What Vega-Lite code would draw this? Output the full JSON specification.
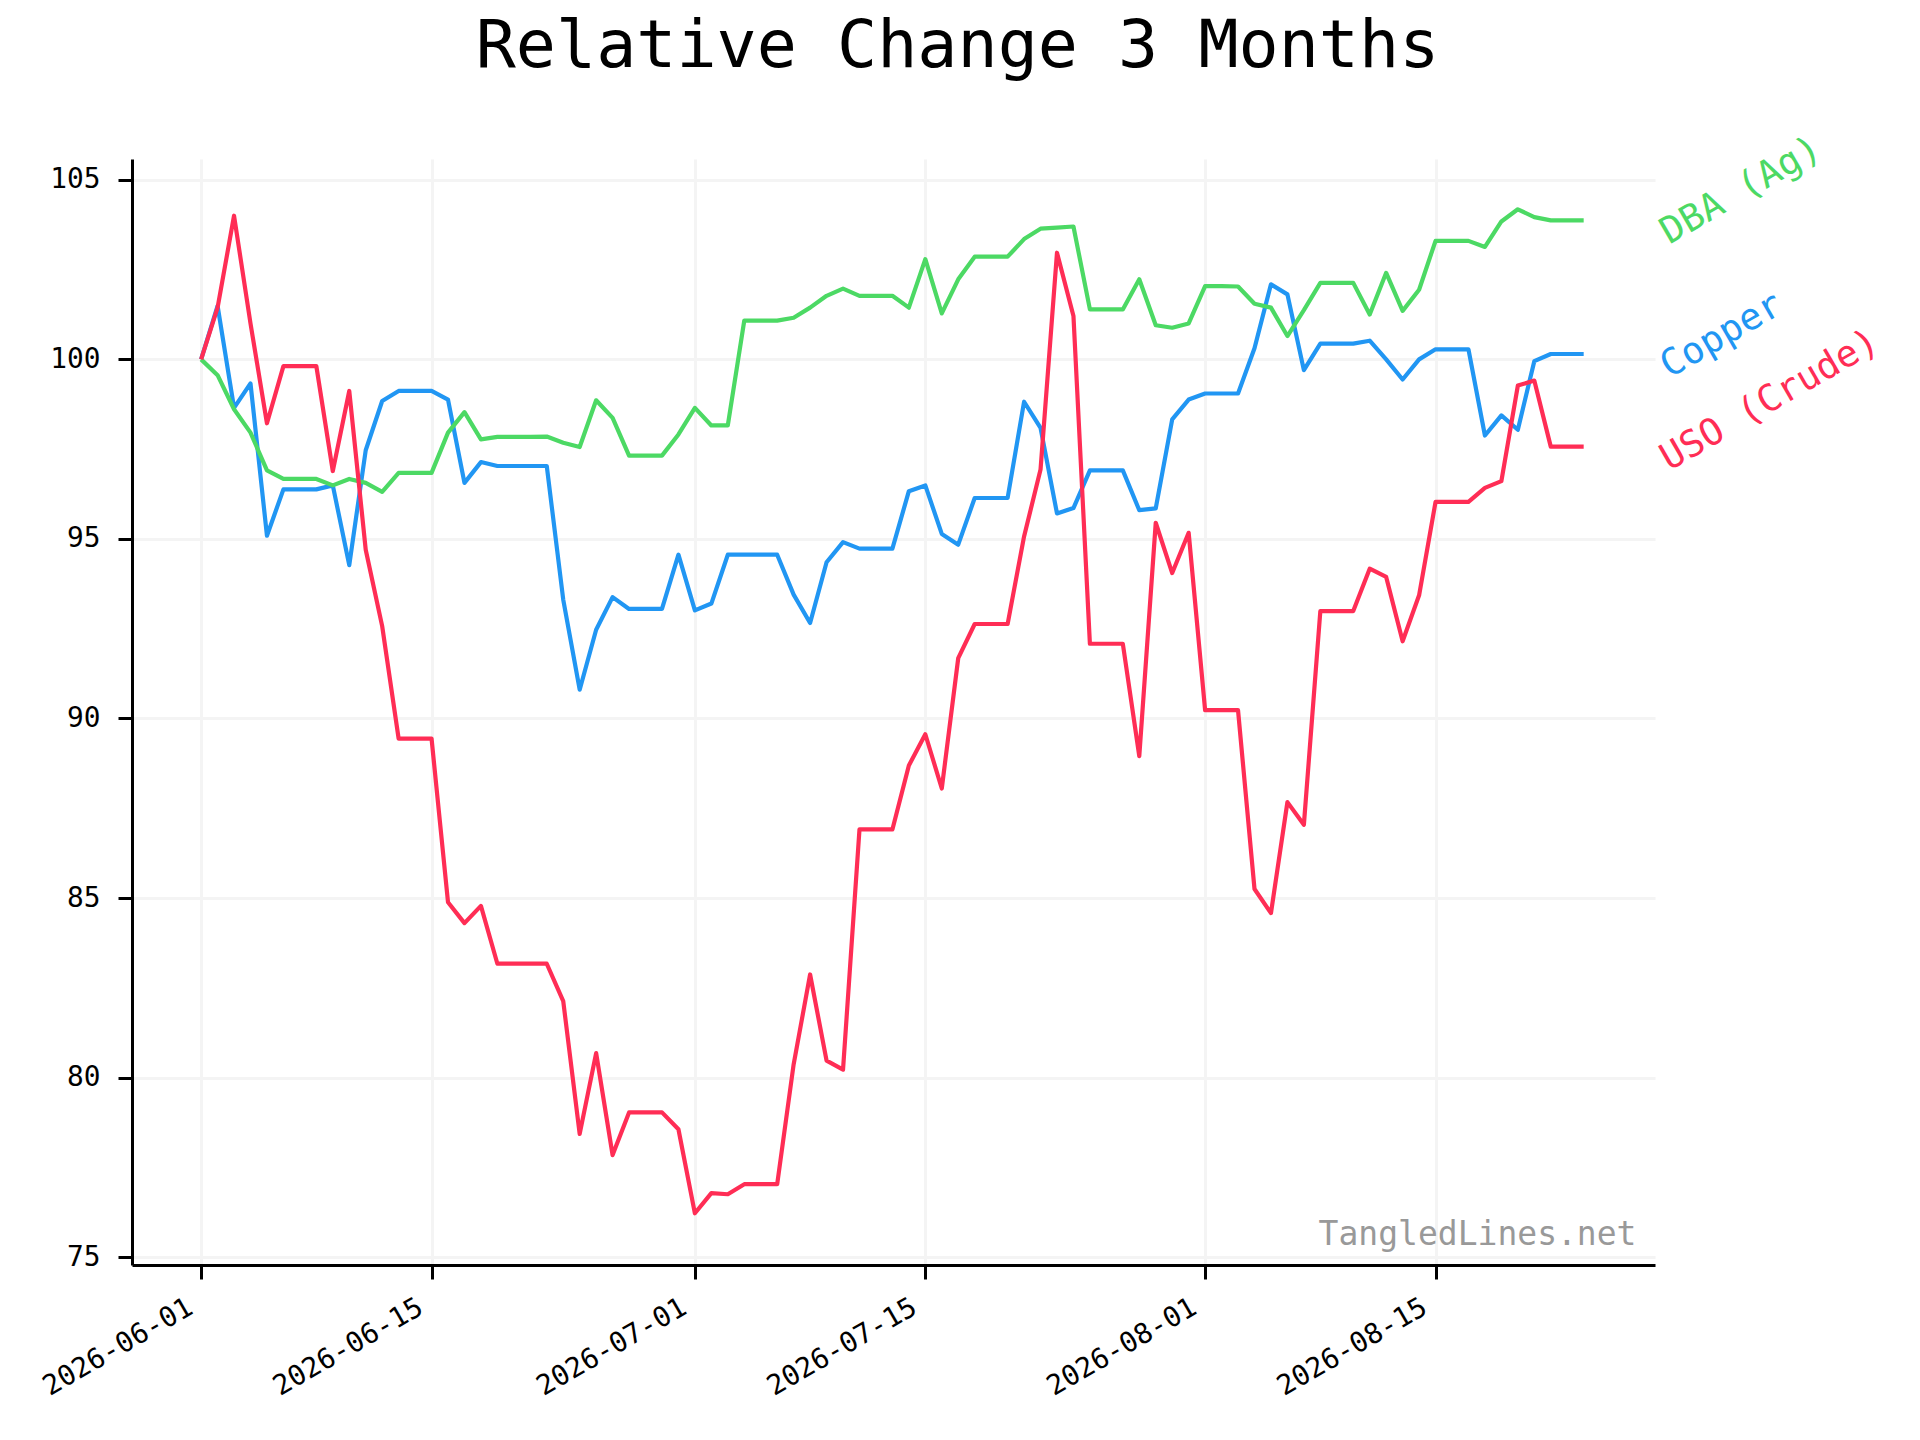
{
  "$schema": "https://vega.github.io/schema/vega-lite/v6.json",
  "width": 1523,
  "height": 1106,
  "autosize": "none",
  "padding": {"left": 132, "top": 159, "right": 265, "bottom": 175},
  "background": "white",
  "title": {
    "text": "Relative Change 3 Months",
    "font": "DejaVu Sans Mono",
    "fontSize": 66.7,
    "fontWeight": "normal",
    "color": "black",
    "anchor": "middle",
    "frame": "group",
    "baseline": "alphabetic",
    "dx": 64,
    "dy": 55,
    "offset": 51
  },
  "layer": [
    {
      "data": {
        "values": [
          {"date": "2026-06-01T00:00", "DBA (Ag)": 100, "Copper": 100, "USO (Crude)": 100},
          {"date": "2026-06-02T00:00", "DBA (Ag)": 99.56, "Copper": 101.49, "USO (Crude)": 101.44},
          {"date": "2026-06-03T00:00", "DBA (Ag)": 98.61, "Copper": 98.65, "USO (Crude)": 104.0},
          {"date": "2026-06-04T00:00", "DBA (Ag)": 97.96, "Copper": 99.33, "USO (Crude)": 101.0},
          {"date": "2026-06-05T00:00", "DBA (Ag)": 96.91, "Copper": 95.09, "USO (Crude)": 98.22},
          {"date": "2026-06-06T00:00", "DBA (Ag)": 96.67, "Copper": 96.38, "USO (Crude)": 99.81},
          {"date": "2026-06-07T00:00", "DBA (Ag)": 96.67, "Copper": 96.38, "USO (Crude)": 99.81},
          {"date": "2026-06-08T00:00", "DBA (Ag)": 96.67, "Copper": 96.38, "USO (Crude)": 99.81},
          {"date": "2026-06-09T00:00", "DBA (Ag)": 96.49, "Copper": 96.49, "USO (Crude)": 96.89},
          {"date": "2026-06-10T00:00", "DBA (Ag)": 96.67, "Copper": 94.27, "USO (Crude)": 99.12},
          {"date": "2026-06-11T00:00", "DBA (Ag)": 96.56, "Copper": 97.47, "USO (Crude)": 94.70},
          {"date": "2026-06-12T00:00", "DBA (Ag)": 96.31, "Copper": 98.84, "USO (Crude)": 92.57},
          {"date": "2026-06-13T00:00", "DBA (Ag)": 96.84, "Copper": 99.12, "USO (Crude)": 89.44},
          {"date": "2026-06-14T00:00", "DBA (Ag)": 96.84, "Copper": 99.12, "USO (Crude)": 89.44},
          {"date": "2026-06-15T00:00", "DBA (Ag)": 96.84, "Copper": 99.12, "USO (Crude)": 89.44},
          {"date": "2026-06-16T00:00", "DBA (Ag)": 97.96, "Copper": 98.88, "USO (Crude)": 84.88},
          {"date": "2026-06-17T00:00", "DBA (Ag)": 98.53, "Copper": 96.56, "USO (Crude)": 84.30},
          {"date": "2026-06-18T00:00", "DBA (Ag)": 97.77, "Copper": 97.14, "USO (Crude)": 84.78},
          {"date": "2026-06-19T00:00", "DBA (Ag)": 97.84, "Copper": 97.03, "USO (Crude)": 83.17},
          {"date": "2026-06-20T00:00", "DBA (Ag)": 97.84, "Copper": 97.03, "USO (Crude)": 83.17},
          {"date": "2026-06-21T00:00", "DBA (Ag)": 97.84, "Copper": 97.03, "USO (Crude)": 83.17},
          {"date": "2026-06-22T00:00", "DBA (Ag)": 97.85, "Copper": 97.03, "USO (Crude)": 83.17},
          {"date": "2026-06-23T00:00", "DBA (Ag)": 97.68, "Copper": 93.31, "USO (Crude)": 82.13},
          {"date": "2026-06-24T00:00", "DBA (Ag)": 97.56, "Copper": 90.80, "USO (Crude)": 78.43},
          {"date": "2026-06-25T00:00", "DBA (Ag)": 98.86, "Copper": 92.47, "USO (Crude)": 80.68},
          {"date": "2026-06-26T00:00", "DBA (Ag)": 98.37, "Copper": 93.38, "USO (Crude)": 77.84},
          {"date": "2026-06-27T00:00", "DBA (Ag)": 97.32, "Copper": 93.05, "USO (Crude)": 79.03},
          {"date": "2026-06-28T00:00", "DBA (Ag)": 97.32, "Copper": 93.05, "USO (Crude)": 79.03},
          {"date": "2026-06-29T00:00", "DBA (Ag)": 97.32, "Copper": 93.05, "USO (Crude)": 79.03},
          {"date": "2026-06-30T00:00", "DBA (Ag)": 97.91, "Copper": 94.56, "USO (Crude)": 78.56},
          {"date": "2026-07-01T00:00", "DBA (Ag)": 98.65, "Copper": 93.01, "USO (Crude)": 76.22},
          {"date": "2026-07-02T00:00", "DBA (Ag)": 98.16, "Copper": 93.20, "USO (Crude)": 76.78},
          {"date": "2026-07-03T00:00", "DBA (Ag)": 98.16, "Copper": 94.56, "USO (Crude)": 76.75},
          {"date": "2026-07-04T00:00", "DBA (Ag)": 101.08, "Copper": 94.56, "USO (Crude)": 77.03},
          {"date": "2026-07-05T00:00", "DBA (Ag)": 101.08, "Copper": 94.56, "USO (Crude)": 77.03},
          {"date": "2026-07-06T00:00", "DBA (Ag)": 101.08, "Copper": 94.56, "USO (Crude)": 77.03},
          {"date": "2026-07-07T00:00", "DBA (Ag)": 101.16, "Copper": 93.45, "USO (Crude)": 80.37},
          {"date": "2026-07-08T00:00", "DBA (Ag)": 101.44, "Copper": 92.66, "USO (Crude)": 82.87},
          {"date": "2026-07-09T00:00", "DBA (Ag)": 101.77, "Copper": 94.35, "USO (Crude)": 80.47},
          {"date": "2026-07-10T00:00", "DBA (Ag)": 101.97, "Copper": 94.91, "USO (Crude)": 80.22},
          {"date": "2026-07-11T00:00", "DBA (Ag)": 101.77, "Copper": 94.73, "USO (Crude)": 86.91},
          {"date": "2026-07-12T00:00", "DBA (Ag)": 101.77, "Copper": 94.73, "USO (Crude)": 86.91},
          {"date": "2026-07-13T00:00", "DBA (Ag)": 101.77, "Copper": 94.73, "USO (Crude)": 86.91},
          {"date": "2026-07-14T00:00", "DBA (Ag)": 101.44, "Copper": 96.33, "USO (Crude)": 88.69},
          {"date": "2026-07-15T00:00", "DBA (Ag)": 102.79, "Copper": 96.49, "USO (Crude)": 89.56},
          {"date": "2026-07-16T00:00", "DBA (Ag)": 101.28, "Copper": 95.14, "USO (Crude)": 88.05},
          {"date": "2026-07-17T00:00", "DBA (Ag)": 102.23, "Copper": 94.84, "USO (Crude)": 91.68},
          {"date": "2026-07-18T00:00", "DBA (Ag)": 102.86, "Copper": 96.14, "USO (Crude)": 92.63},
          {"date": "2026-07-19T00:00", "DBA (Ag)": 102.86, "Copper": 96.14, "USO (Crude)": 92.63},
          {"date": "2026-07-20T00:00", "DBA (Ag)": 102.86, "Copper": 96.14, "USO (Crude)": 92.63},
          {"date": "2026-07-21T00:00", "DBA (Ag)": 103.35, "Copper": 98.82, "USO (Crude)": 95.07},
          {"date": "2026-07-22T00:00", "DBA (Ag)": 103.64, "Copper": 98.09, "USO (Crude)": 96.93},
          {"date": "2026-07-23T00:00", "DBA (Ag)": 103.67, "Copper": 95.71, "USO (Crude)": 102.97},
          {"date": "2026-07-24T00:00", "DBA (Ag)": 103.70, "Copper": 95.86, "USO (Crude)": 101.21},
          {"date": "2026-07-25T00:00", "DBA (Ag)": 101.39, "Copper": 96.91, "USO (Crude)": 92.08},
          {"date": "2026-07-26T00:00", "DBA (Ag)": 101.39, "Copper": 96.91, "USO (Crude)": 92.08},
          {"date": "2026-07-27T00:00", "DBA (Ag)": 101.39, "Copper": 96.91, "USO (Crude)": 92.08},
          {"date": "2026-07-28T00:00", "DBA (Ag)": 102.23, "Copper": 95.80, "USO (Crude)": 88.95},
          {"date": "2026-07-29T00:00", "DBA (Ag)": 100.95, "Copper": 95.85, "USO (Crude)": 95.45},
          {"date": "2026-07-30T00:00", "DBA (Ag)": 100.88, "Copper": 98.33, "USO (Crude)": 94.05},
          {"date": "2026-07-31T00:00", "DBA (Ag)": 101.00, "Copper": 98.88, "USO (Crude)": 95.17},
          {"date": "2026-08-01T00:00", "DBA (Ag)": 102.04, "Copper": 99.05, "USO (Crude)": 90.23},
          {"date": "2026-08-02T00:00", "DBA (Ag)": 102.04, "Copper": 99.05, "USO (Crude)": 90.23},
          {"date": "2026-08-03T00:00", "DBA (Ag)": 102.03, "Copper": 99.05, "USO (Crude)": 90.23},
          {"date": "2026-08-04T00:00", "DBA (Ag)": 101.55, "Copper": 100.31, "USO (Crude)": 85.25},
          {"date": "2026-08-05T00:00", "DBA (Ag)": 101.44, "Copper": 102.09, "USO (Crude)": 84.58},
          {"date": "2026-08-06T00:00", "DBA (Ag)": 100.65, "Copper": 101.81, "USO (Crude)": 87.67},
          {"date": "2026-08-07T00:00", "DBA (Ag)": 101.37, "Copper": 99.70, "USO (Crude)": 87.04},
          {"date": "2026-08-08T00:00", "DBA (Ag)": 102.13, "Copper": 100.44, "USO (Crude)": 92.99},
          {"date": "2026-08-09T00:00", "DBA (Ag)": 102.13, "Copper": 100.44, "USO (Crude)": 92.99},
          {"date": "2026-08-10T00:00", "DBA (Ag)": 102.13, "Copper": 100.44, "USO (Crude)": 92.99},
          {"date": "2026-08-11T00:00", "DBA (Ag)": 101.25, "Copper": 100.52, "USO (Crude)": 94.17},
          {"date": "2026-08-12T00:00", "DBA (Ag)": 102.41, "Copper": 100.00, "USO (Crude)": 93.94},
          {"date": "2026-08-13T00:00", "DBA (Ag)": 101.35, "Copper": 99.44, "USO (Crude)": 92.15},
          {"date": "2026-08-14T00:00", "DBA (Ag)": 101.94, "Copper": 100.00, "USO (Crude)": 93.43},
          {"date": "2026-08-15T00:00", "DBA (Ag)": 103.30, "Copper": 100.28, "USO (Crude)": 96.03},
          {"date": "2026-08-16T00:00", "DBA (Ag)": 103.30, "Copper": 100.28, "USO (Crude)": 96.03},
          {"date": "2026-08-17T00:00", "DBA (Ag)": 103.30, "Copper": 100.28, "USO (Crude)": 96.03},
          {"date": "2026-08-18T00:00", "DBA (Ag)": 103.13, "Copper": 97.88, "USO (Crude)": 96.42},
          {"date": "2026-08-19T00:00", "DBA (Ag)": 103.84, "Copper": 98.44, "USO (Crude)": 96.61},
          {"date": "2026-08-20T00:00", "DBA (Ag)": 104.18, "Copper": 98.04, "USO (Crude)": 99.27},
          {"date": "2026-08-21T00:00", "DBA (Ag)": 103.96, "Copper": 99.95, "USO (Crude)": 99.41},
          {"date": "2026-08-22T00:00", "DBA (Ag)": 103.87, "Copper": 100.15, "USO (Crude)": 97.57},
          {"date": "2026-08-23T00:00", "DBA (Ag)": 103.87, "Copper": 100.15, "USO (Crude)": 97.57},
          {"date": "2026-08-24T00:00", "DBA (Ag)": 103.87, "Copper": 100.15, "USO (Crude)": 97.57}
        ]
      },
      "transform": [
        {"fold": ["Copper", "DBA (Ag)", "USO (Crude)"], "as": ["series", "value"]}
      ],
      "encoding": {
        "x": {
          "field": "date",
          "type": "temporal",
          "title": null,
          "scale": {
            "nice": false,
            "domain": [
              {"year": 2026, "month": 5, "date": 27, "hours": 19, "minutes": 12},
              {"year": 2026, "month": 8, "date": 28, "hours": 8}
            ]
          },
          "axis": {
            "values": [
              {"year": 2026, "month": 6, "date": 1},
              {"year": 2026, "month": 6, "date": 15},
              {"year": 2026, "month": 7, "date": 1},
              {"year": 2026, "month": 7, "date": 15},
              {"year": 2026, "month": 8, "date": 1},
              {"year": 2026, "month": 8, "date": 15}
            ],
            "format": "%Y-%m-%d",
            "labelAngle": -30,
            "labelAlign": "right",
            "labelBaseline": "top",
            "labelOffset": -18,
            "labelPadding": 14,
            "labelOverlap": false,
            "labelFlush": false
          }
        },
        "y": {
          "field": "value",
          "type": "quantitative",
          "title": null,
          "scale": {"domain": [74.78, 105.58], "nice": false, "zero": false},
          "axis": {"values": [75, 80, 85, 90, 95, 100, 105], "labelPadding": 18}
        },
        "color": {
          "field": "series",
          "type": "nominal",
          "legend": null,
          "scale": {
            "domain": ["DBA (Ag)", "Copper", "USO (Crude)"],
            "range": ["#4cd964", "#2196f3", "#ff2d55"]
          }
        }
      },
      "layer": [
        {
          "mark": {"type": "line", "strokeWidth": 4.2, "strokeJoin": "round"}
        },
        {
          "transform": [
            {"filter": {"field": "date", "timeUnit": "yearmonthdate", "equal": {"year": 2026, "month": 8, "date": 24}}}
          ],
          "mark": {
            "type": "text",
            "font": "DejaVu Sans Mono",
            "fontSize": 37,
            "angle": -30,
            "align": "left",
            "baseline": "alphabetic",
            "dx": 62,
            "dy": 64
          },
          "encoding": {
            "text": {"field": "series"}
          }
        }
      ]
    },
    {
      "data": {"values": [{"site": "TangledLines.net"}]},
      "mark": {
        "type": "text",
        "font": "DejaVu Sans Mono",
        "fontSize": 33,
        "align": "right",
        "baseline": "alphabetic"
      },
      "encoding": {
        "x": {"datum": {"year": 2026, "month": 8, "date": 27, "hours": 5}, "type": "temporal"},
        "y": {"datum": 75.33, "type": "quantitative"},
        "text": {"field": "site"},
        "color": {"value": "#999999"}
      }
    }
  ],
  "config": {
    "view": {"stroke": null},
    "axis": {
      "labelFont": "DejaVu Sans Mono",
      "labelFontSize": 27.8,
      "labelColor": "black",
      "domainColor": "black",
      "domainWidth": 3,
      "tickColor": "black",
      "tickWidth": 3,
      "tickSize": 14,
      "grid": true,
      "gridColor": "#f4f4f4",
      "gridWidth": 3
    }
  }
}
